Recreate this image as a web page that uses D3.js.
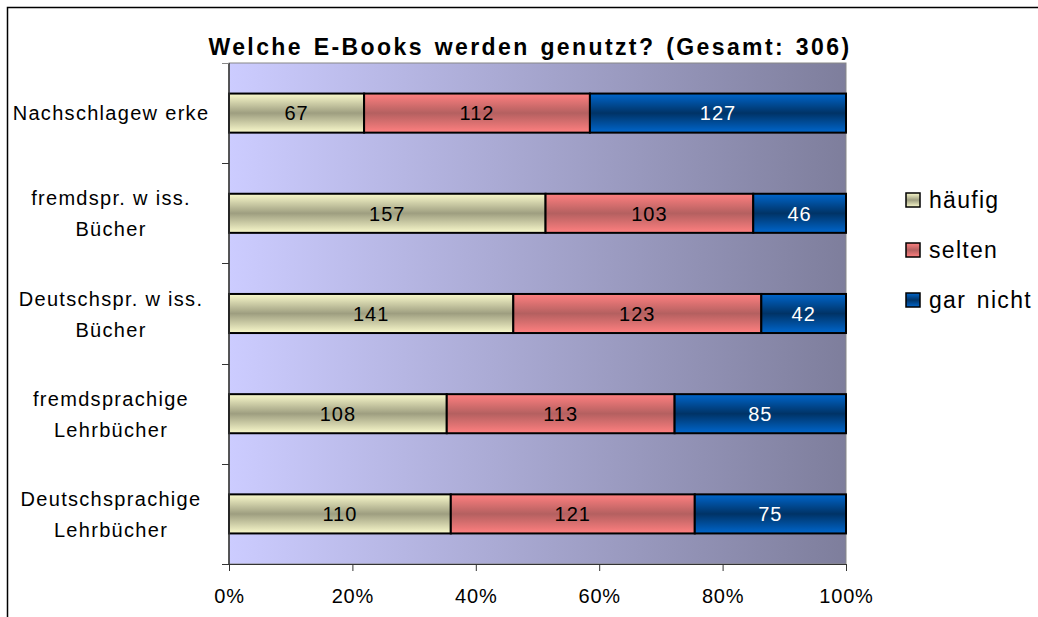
<!DOCTYPE html>
<html>
<head>
<meta charset="utf-8">
<script src="https://cdn.jsdelivr.net/npm/d3@7"></script>
<style>
  body { margin: 0; background: #fff; }
  svg { display: block; font-family: "Liberation Sans", Arial, sans-serif; }
</style>
</head>
<body>
<svg class="chart" width="1038" height="617"></svg>
<script>
// Data
var categories = [
    ["Nachschlagew erke"],
    ["fremdspr. w iss.", "Bücher"],
    ["Deutschspr. w iss.", "Bücher"],
    ["fremdsprachige", "Lehrbücher"],
    ["Deutschsprachige", "Lehrbücher"]
];
var series = ["häufig", "selten", "gar nicht"];
var haeufig = [67, 157, 141, 108, 110];
var selten = [112, 103, 123, 113, 121];
var garNicht = [127, 46, 42, 85, 75];
var xTicks = [0, 0.2, 0.4, 0.6, 0.8, 1];

// Margins
var margin = { top: 63, left: 229, right: 192, bottom: 53 },
    width = 1038 - margin.left - margin.right,
    height = 617 - margin.top - margin.bottom;

var svg = d3.select(".chart");
var defs = svg.append("defs");

// background gradient of plot area
var bg = defs.append("linearGradient").attr("id", "bg")
    .attr("x1", "0%").attr("x2", "100%").attr("y1", "0%").attr("y2", "0%");
bg.append("stop").attr("offset", "0%").attr("stop-color", "#ccccff");
bg.append("stop").attr("offset", "100%").attr("stop-color", "#7e7e9c");

// bar gradients (light - dark - light)
var colors = [
    { id: "g0", light: "#fafacc", dark: "#9e9e80" },
    { id: "g1", light: "#ff8080", dark: "#b46060" },
    { id: "g2", light: "#0066cc", dark: "#003366" }
];
colors.forEach(function (c) {
    var g = defs.append("linearGradient").attr("id", c.id)
        .attr("x1", "0%").attr("x2", "0%").attr("y1", "0%").attr("y2", "100%");
    g.append("stop").attr("offset", "0%").attr("stop-color", c.light);
    g.append("stop").attr("offset", "50%").attr("stop-color", c.dark);
    g.append("stop").attr("offset", "100%").attr("stop-color", c.light);
});

// outer frame
svg.append("rect")
    .attr("x", 7.5).attr("y", 7.5)
    .attr("width", 1100).attr("height", 700)
    .attr("fill", "none").attr("stroke", "#000").attr("stroke-width", 1.5);

// title
svg.append("text")
    .attr("x", 530).attr("y", 55)
    .attr("text-anchor", "middle")
    .attr("font-size", 23).attr("font-weight", "bold")
    .attr("letter-spacing", 2.4)
    .attr("word-spacing", 2)
    .text("Welche E-Books werden genutzt? (Gesamt: 306)");

var chart = svg.append("g")
    .attr("transform", "translate(" + margin.left + "," + margin.top + ")");

var x = d3.scaleLinear().domain([0, 1]).range([0, width]);
var y = d3.scaleBand().domain(d3.range(categories.length)).range([0, height]).paddingInner(0.61).paddingOuter(0.305);
var yStep = d3.scaleLinear().domain([0, categories.length]).range([0, height]);

chart.append("rect")
    .attr("width", width).attr("height", height)
    .attr("fill", "url(#bg)").attr("stroke", "#888").attr("stroke-width", 1);

// stacked data
var rows = categories.map(function (c, i) {
    var vals = [haeufig[i], selten[i], garNicht[i]];
    var total = d3.sum(vals);
    var acc = 0;
    return vals.map(function (v, k) {
        var seg = { i: i, k: k, v: v, x0: acc / total, x1: (acc + v) / total };
        acc += v;
        return seg;
    });
});

var segs = chart.selectAll(".seg")
    .data(d3.merge(rows))
    .enter().append("g").attr("class", "seg");

segs.append("rect")
    .attr("x", function (d) { return x(d.x0); })
    .attr("y", function (d) { return y(d.i); })
    .attr("width", function (d) { return x(d.x1) - x(d.x0); })
    .attr("height", y.bandwidth())
    .attr("fill", function (d) { return "url(#" + colors[d.k].id + ")"; })
    .attr("stroke", "#000").attr("stroke-width", 2);

segs.append("text")
    .attr("x", function (d) { return (x(d.x0) + x(d.x1)) / 2; })
    .attr("y", function (d) { return y(d.i) + y.bandwidth() / 2; })
    .attr("dy", "0.36em")
    .attr("text-anchor", "middle")
    .attr("font-size", 20)
    .attr("letter-spacing", 1)
    .attr("fill", function (d) { return d.k === 2 ? "#fff" : "#000"; })
    .text(function (d) { return d.v; });

// left axis line and ticks at band boundaries
chart.append("line")
    .attr("x1", 0).attr("x2", 0).attr("y1", 0).attr("y2", height)
    .attr("stroke", "#333").attr("stroke-width", 1.5);
chart.selectAll(".ytick")
    .data(d3.range(categories.length + 1))
    .enter().append("line")
    .attr("x1", -7).attr("x2", 0)
    .attr("y1", function (d) { return Math.round(yStep(d)) + 0.5; })
    .attr("y2", function (d) { return Math.round(yStep(d)) + 0.5; })
    .attr("stroke", function (d) { return d === 0 ? "#888" : "#333"; });

// category labels
var labels = chart.selectAll(".ylabel")
    .data(categories)
    .enter().append("text")
    .attr("class", "ylabel")
    .attr("text-anchor", "middle")
    .attr("font-size", 20)
    .attr("letter-spacing", 1.3)
    .attr("transform", function (d, i) {
        return "translate(-118," + (y(i) + y.bandwidth() / 2) + ")";
    });
labels.selectAll("tspan")
    .data(function (d) { return d; })
    .enter().append("tspan")
    .attr("x", 0)
    .attr("dy", function (d, j, nodes) {
        if (nodes.length === 1) return 7;
        return j === 0 ? -8 : 31;
    })
    .text(function (d) { return d; });

// x axis
var xAxis = d3.axisBottom(x).tickValues(xTicks).tickFormat(d3.format(".0%")).tickSize(7).tickSizeOuter(0);
var gx = chart.append("g")
    .attr("transform", "translate(0," + height + ")")
    .call(xAxis);
gx.select(".domain").attr("stroke", "#333");
gx.selectAll(".tick line").attr("stroke", "#333");
gx.selectAll(".tick text")
    .attr("font-size", 20).attr("font-family", "Liberation Sans, Arial, sans-serif")
    .attr("letter-spacing", 0.8)
    .attr("fill", "#000").attr("y", 25);

// legend
var legend = svg.append("g").attr("transform", "translate(906,200)");
var items = legend.selectAll(".item")
    .data(series)
    .enter().append("g")
    .attr("transform", function (d, i) { return "translate(0," + (i * 50) + ")"; });
items.append("rect")
    .attr("x", 0).attr("y", -7).attr("width", 14).attr("height", 14)
    .attr("fill", function (d, i) { return "url(#" + colors[i].id + ")"; })
    .attr("stroke", "#000").attr("stroke-width", 1.5);
items.append("text")
    .attr("x", 23).attr("y", 0).attr("dy", "0.36em")
    .attr("font-size", 23)
    .attr("letter-spacing", 1.3)
    .attr("word-spacing", 3)
    .text(function (d) { return d; });
</script>
</body>
</html>
